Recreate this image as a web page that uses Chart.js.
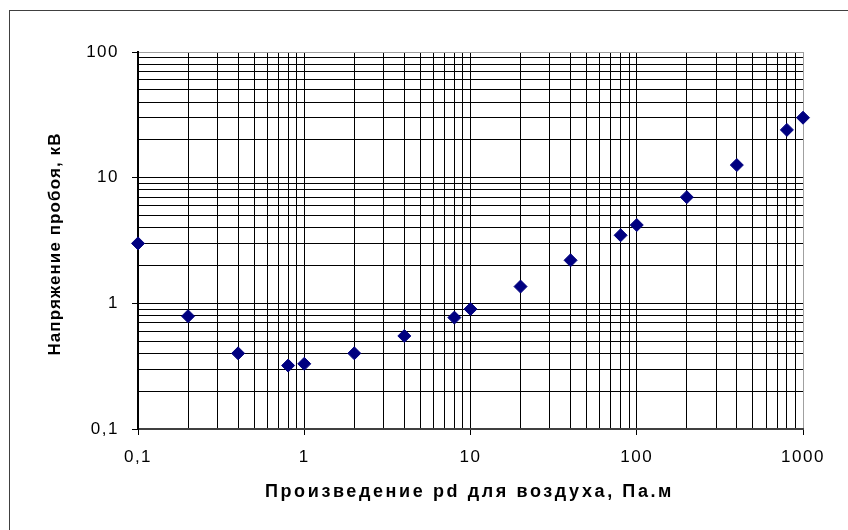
<!DOCTYPE html>
<html>
<head>
<meta charset="utf-8">
<script src="https://cdn.jsdelivr.net/npm/chart.js@4/dist/chart.umd.min.js"></script>
<style>
  html, body { margin: 0; padding: 0; background: #fff; }
  canvas { display: block; }
</style>
</head>
<body>
<canvas id="c" width="848" height="530"></canvas>
<script>
// Breakdown voltage of air versus pd (Paschen curve)
const pd = [0.1, 0.2, 0.4, 0.8, 1, 2, 4, 8, 10, 20, 40, 80, 100, 200, 400, 800, 1000];
const voltage = [3.0, 0.79, 0.40, 0.32, 0.33, 0.40, 0.55, 0.77, 0.90, 1.36, 2.2, 3.48, 4.2, 7.0, 12.6, 24, 30];

// Decades that carry labels; minor grid lines at 2..9 of each decade
const xDecades = [0.1, 1, 10, 100, 1000];
const yDecades = [0.1, 1, 10, 100];
const xTickLabels = ['0,1', '1', '10', '100', '1000'];
const yTickLabels = ['0,1', '1', '10', '100'];

const xTitle = 'Произведение pd для воздуха, Па.м';
const yTitle = 'Напряжение пробоя, кВ';

const FONT = '"Liberation Sans", Arial, sans-serif';

function logTicks(decades) {
  const ticks = [];
  decades.forEach((d, i) => {
    if (i === decades.length - 1) {
      ticks.push({ value: d, major: true });
      return;
    }
    for (let m = 1; m <= 9; m++) ticks.push({ value: d * m, major: m === 1 });
  });
  return ticks;
}

function labelFor(decades, labels, value) {
  for (let i = 0; i < decades.length; i++) {
    if (Math.abs(value - decades[i]) < decades[i] * 1e-6) return labels[i];
  }
  return '';
}

const chromePlugin = {
  id: 'chrome',
  beforeDraw(chart) {
    chart.ctx.letterSpacing = '1.5px';
  },
  afterDraw(chart) {
    const ctx = chart.ctx;
    const area = chart.chartArea;
    ctx.save();
    // outer frame
    ctx.letterSpacing = '0px';
    ctx.strokeStyle = '#404040';
    ctx.lineWidth = 1;
    ctx.strokeRect(9.5, 10.5, 860, 560);

    // axis titles
    ctx.fillStyle = '#000';
    ctx.textAlign = 'center';
    ctx.textBaseline = 'alphabetic';
    ctx.font = 'bold 18px ' + FONT;
    ctx.letterSpacing = '2.6px';
    const cx = (area.left + area.right) / 2 - 1;
    ctx.fillText(xTitle, cx, 490.5 + 0.358 * 18);

    ctx.font = 'bold 17px ' + FONT;
    ctx.letterSpacing = '1.1px';
    ctx.translate(54 + 0.358 * 17, 244);
    ctx.rotate(-Math.PI / 2);
    ctx.fillText(yTitle, 0, 0);
    ctx.restore();
  }
};

new Chart(document.getElementById('c'), {
  type: 'scatter',
  data: {
    datasets: [{
      data: pd.map((x, i) => ({ x: x, y: voltage[i] })),
      backgroundColor: '#000080',
      borderColor: '#000080',
      borderWidth: 1,
      pointStyle: 'rectRot',
      pointRadius: 6.5,
      pointHoverRadius: 6.5,
      clip: false
    }]
  },
  options: {
    responsive: false,
    animation: false,
    events: [],
    layout: { padding: { left: 0, right: 45, top: 52, bottom: 0 } },
    plugins: { legend: { display: false }, tooltip: { enabled: false } },
    scales: {
      x: {
        type: 'logarithmic',
        min: xDecades[0],
        max: xDecades[xDecades.length - 1],
        afterBuildTicks: s => { s.ticks = logTicks(xDecades); },
        afterFit: s => { s.height = 101; },
        ticks: {
          autoSkip: false,
          maxRotation: 0,
          padding: 12,
          color: '#000',
          font: { family: FONT, size: 17 },
          callback: v => labelFor(xDecades, xTickLabels, v)
        },
        grid: {
          color: c => (c.tick && Math.abs(c.tick.value - 1000) < 1e-6) ? '#a0a0a0' : '#000',
          lineWidth: 1,
          tickLength: 6,
          tickColor: c => (c.tick && c.tick.major) ? '#000' : 'rgba(0,0,0,0)'
        },
        border: { color: '#404040', width: 2 }
      },
      y: {
        type: 'logarithmic',
        min: yDecades[0],
        max: yDecades[yDecades.length - 1],
        afterBuildTicks: s => { s.ticks = logTicks(yDecades); },
        afterFit: s => { s.width = 138; },
        ticks: {
          autoSkip: false,
          padding: 13,
          color: '#000',
          font: { family: FONT, size: 17 },
          callback: v => labelFor(yDecades, yTickLabels, v)
        },
        grid: {
          color: c => (c.tick && Math.abs(c.tick.value - 100) < 1e-6) ? '#a0a0a0' : '#000',
          lineWidth: 1,
          tickLength: 6,
          tickColor: c => (c.tick && c.tick.major) ? '#000' : 'rgba(0,0,0,0)'
        },
        border: { color: '#000', width: 2 }
      }
    }
  },
  plugins: [chromePlugin]
});
</script>
</body>
</html>
